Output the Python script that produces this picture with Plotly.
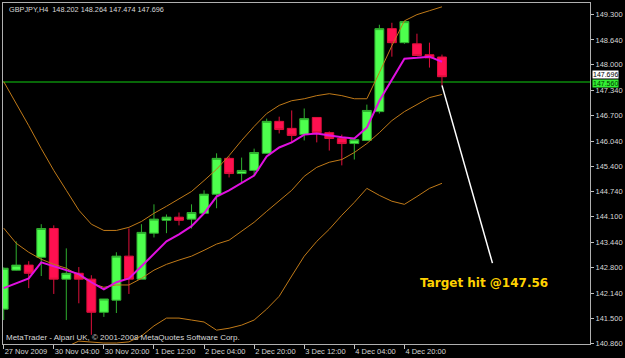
import plotly.graph_objects as go

# ---------------- data ----------------
bars = list(range(36))
opens = [141.73, 142.73, 142.86, 143.06, 143.80, 142.50, 142.65, 142.50, 141.65, 141.96,
         143.09, 142.50, 143.68, 144.01, 144.09, 144.04, 144.19, 144.68, 145.60, 145.21,
         145.29, 145.73, 146.55, 146.37, 146.21, 146.65, 146.26, 146.11, 145.98, 146.06,
         146.80, 148.93, 148.57, 148.54, 148.26, 148.202]
highs = [142.80, 143.47, 142.96, 143.91, 143.88, 143.29, 142.81, 142.60, 141.99, 143.19,
         143.80, 143.91, 144.42, 144.16, 144.21, 144.42, 144.78, 145.73, 145.65, 145.62,
         145.85, 146.62, 146.67, 146.83, 146.88, 146.65, 146.29, 146.21, 146.08, 146.98,
         149.03, 149.08, 149.13, 148.80, 148.57, 148.264]
lows = [141.45, 142.72, 142.27, 142.58, 142.12, 141.45, 141.88, 141.07, 141.53, 141.63,
        142.12, 142.50, 143.57, 143.68, 143.88, 143.80, 144.19, 144.32, 145.11, 144.96,
        145.16, 145.73, 146.24, 146.01, 146.06, 146.01, 145.80, 145.42, 145.57, 146.06,
        146.75, 148.21, 148.54, 148.24, 147.93, 147.474]
closes = [142.78, 142.86, 142.65, 143.80, 142.50, 142.65, 142.50, 141.65, 141.99, 143.09,
          142.50, 143.70, 144.04, 144.09, 144.01, 144.21, 144.68, 145.60, 145.21, 145.29,
          145.75, 146.55, 146.34, 146.19, 146.62, 146.26, 146.11, 145.98, 146.08, 146.83,
          148.93, 148.57, 149.11, 148.24, 148.18, 147.696]

fast_ma = [142.27, 142.40, 142.52, 142.93, 142.83, 142.73, 142.63, 142.42, 142.24, 142.42,
           142.52, 142.83, 143.14, 143.47, 143.65, 143.86, 144.19, 144.62, 144.78, 144.96,
           145.16, 145.65, 145.88, 146.01, 146.21, 146.24, 146.19, 146.14, 146.11, 146.39,
           147.08, 147.62, 148.16, 148.18, 148.21, 148.08]
bb_upper = [147.57, 147.01, 146.44, 145.85, 145.29, 144.78, 144.27, 143.91, 143.75, 143.75,
            143.83, 143.98, 144.19, 144.37, 144.57, 144.75, 145.03, 145.32, 145.67, 146.06,
            146.42, 146.75, 146.96, 147.08, 147.13, 147.21, 147.26, 147.21, 147.13, 147.13,
            147.80, 148.49, 149.13, 149.29, 149.39, 149.49]
bb_middle = [143.81, 143.42, 143.19, 143.01, 142.88, 142.78, 142.60, 142.40, 142.29, 142.35,
             142.35, 142.52, 142.73, 142.88, 142.99, 143.09, 143.24, 143.40, 143.50, 143.73,
             143.96, 144.24, 144.52, 144.78, 145.14, 145.37, 145.50, 145.57, 145.75, 145.98,
             146.26, 146.57, 146.80, 146.98, 147.16, 147.24]
bb_lower = [139.96, 139.78, 139.84, 140.12, 140.48, 140.76, 140.91, 140.89, 140.86, 140.86,
            140.89, 141.04, 141.30, 141.50, 141.50, 141.45, 141.40, 141.19, 141.24, 141.32,
            141.45, 141.73, 142.06, 142.58, 143.09, 143.47, 143.78, 144.14, 144.47, 144.83,
            144.65, 144.50, 144.42, 144.62, 144.83, 144.96]

x_tick_bars = [0, 4, 8, 12, 16, 20, 24, 28, 32]
x_tick_labels = ["27 Nov 2009", "30 Nov 04:00", "30 Nov 20:00", "1 Dec 12:00", "2 Dec 04:00",
                 "2 Dec 20:00", "3 Dec 12:00", "4 Dec 04:00", "4 Dec 20:00"]
y_tick_vals = [149.30, 148.64, 148.00, 147.34, 146.70, 146.04, 145.40, 144.74,
               144.10, 143.44, 142.80, 142.14, 141.50, 140.86]

target_price = 147.56
target_line_bars = [35, 39.03]
target_line_prices = [147.474, 142.91]
target_text_bar = 38.33
target_text_price = 142.41

# ---------------- figure ----------------
W, H = 625, 358
ML, MR, MT, MB = 2, 30, 2, 14
PW, PH = W - ML - MR, H - MT - MB


def px(x):
    return (x - ML) / PW


def py(y):
    return 1 - (y - MT) / PH


fig = go.Figure()

band_color = "#c07a18"
for band in (bb_upper, bb_middle, bb_lower):
    fig.add_trace(go.Scatter(x=bars, y=band, mode="lines",
                             line=dict(color=band_color, width=1), hoverinfo="skip"))

fig.add_trace(go.Scatter(x=bars, y=fast_ma, mode="lines",
                         line=dict(color="#e010e0", width=2), hoverinfo="skip"))

fig.add_trace(go.Candlestick(
    x=bars, open=opens, high=highs, low=lows, close=closes,
    increasing=dict(fillcolor="#4dff4d", line=dict(color="#2fae2f", width=1)),
    decreasing=dict(fillcolor="#ff1050", line=dict(color="#e0103c", width=1)),
    whiskerwidth=0,
))

fig.add_trace(go.Scatter(x=target_line_bars, y=target_line_prices, mode="lines",
                         line=dict(color="#ffffff", width=1.5), hoverinfo="skip"))

fig.add_shape(type="line", xref="paper", x0=0, x1=1, yref="y",
              y0=target_price, y1=target_price,
              line=dict(color="#0b8a0b", width=1.5), layer="below")

axis_font = dict(family="Liberation Sans, Arial, sans-serif", size=7.5, color="#d8d8d8")

fig.update_layout(
    width=W, height=H,
    margin=dict(l=ML, r=MR, t=MT, b=MB, pad=0),
    paper_bgcolor="#000000", plot_bgcolor="#000000",
    showlegend=False,
    boxgap=0, boxgroupgap=0.29,
    xaxis=dict(range=[-0.055, 46.82], tickmode="array", tickvals=x_tick_bars,
               ticktext=x_tick_labels, ticks="outside", ticklen=4, tickcolor="#c0c0c0",
               tickangle=0, ticklabelposition="outside right", tickfont=axis_font,
               showgrid=False, zeroline=False, showline=True, linecolor="#b0b0b0",
               linewidth=1, mirror=True, rangeslider=dict(visible=False)),
    yaxis=dict(range=[140.835, 149.588], side="right", tickmode="array",
               tickvals=y_tick_vals, ticktext=[f"{v:.3f}" for v in y_tick_vals],
               ticks="outside", ticklen=3, tickcolor="#c0c0c0", tickfont=axis_font,
               showgrid=False, zeroline=False, showline=True, linecolor="#b0b0b0",
               linewidth=1, mirror=True),
)

fig.add_annotation(xref="paper", yref="paper", x=px(6), y=py(8.5), xanchor="left",
                   yanchor="middle", showarrow=False,
                   text="GBPJPY,H4  148.202 148.264 147.474 147.696",
                   font=dict(family="Liberation Sans, Arial, sans-serif", size=7.3, color="#d8d8d8"))

fig.add_annotation(xref="paper", yref="paper", x=px(3), y=py(337.5), xanchor="left",
                   yanchor="middle", showarrow=False,
                   text="MetaTrader - Alpari UK, © 2001-2008 MetaQuotes Software Corp.",
                   font=dict(family="Liberation Sans, Arial, sans-serif", size=8, color="#d8d8d8"))

fig.add_annotation(xref="x", yref="y", x=target_text_bar, y=target_text_price,
                   showarrow=False, text="<b>Target hit @147.56</b>",
                   font=dict(family="DejaVu Sans, sans-serif", size=12, color="#ffd200"))

fig.add_annotation(xref="paper", yref="y", x=1, y=closes[-1], xanchor="left",
                   yanchor="middle", showarrow=False, xshift=2, yshift=2.5, text="147.696",
                   bgcolor="#ffffff", borderpad=0,
                   font=dict(family="Liberation Sans, Arial, sans-serif", size=7, color="#000000"))
fig.add_annotation(xref="paper", yref="y", x=1, y=target_price, xanchor="left",
                   yanchor="middle", showarrow=False, xshift=2, yshift=-1.5, text="147.560",
                   bgcolor="#33ee33", borderpad=0,
                   font=dict(family="Liberation Sans, Arial, sans-serif", size=7, color="#003300"))

fig.write_html("out.html")
